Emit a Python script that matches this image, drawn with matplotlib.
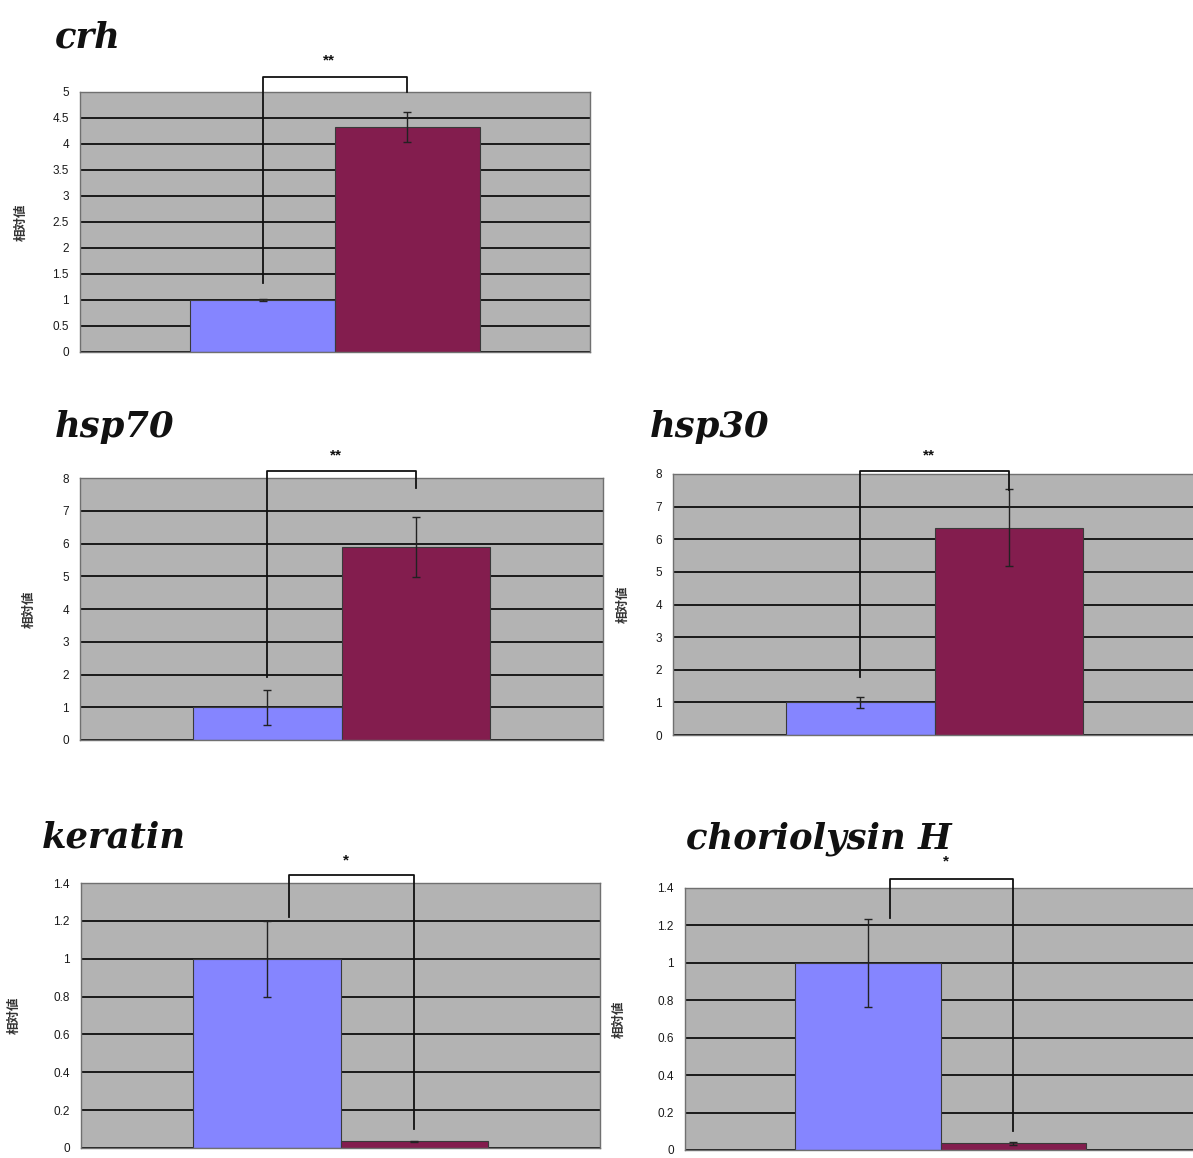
import numpy as np
import matplotlib.pyplot as plt

plt.rcParams['font.family'] = ['Liberation Sans', 'DejaVu Sans']

W, H = 1193, 1158

genes = ["crh", "hsp70", "hsp30", "keratin", "choriolysin H"]
control = [1.0, 1.0, 1.0, 1.0, 1.0]
control_err = [0.02, 0.53, 0.18, 0.2, 0.235]
treated = [4.33, 5.9, 6.35, 0.035, 0.035]
treated_err = [0.29, 0.92, 1.18, 0.004, 0.006]
y_max = [5, 8, 8, 1.4, 1.4]
y_step = [0.5, 1, 1, 0.2, 0.2]
tick_labels = [
    ["0", "0.5", "1", "1.5", "2", "2.5", "3", "3.5", "4", "4.5", "5"],
    ["0", "1", "2", "3", "4", "5", "6", "7", "8"],
    ["0", "1", "2", "3", "4", "5", "6", "7", "8"],
    ["0", "0.2", "0.4", "0.6", "0.8", "1", "1.2", "1.4"],
    ["0", "0.2", "0.4", "0.6", "0.8", "1", "1.2", "1.4"],
]
# significance bracket: left leg x, left leg bottom, top, right leg bottom
bracket_x0 = [0, 0, 0, 0.15, 0.155]
bracket_y0 = [1.33, 1.93, 1.78, 1.22, 1.24]
bracket_top = [5.29, 8.2, 8.1, 1.44, 1.45]
bracket_y1 = [5.0, 7.7, 7.5, 0.1, 0.1]
stars = ["**", "**", "**", "*", "*"]
star_y = [5.6, 8.68, 8.58, 1.52, 1.54]

# panel boxes in pixels: left, right, top, bottom
boxes = [(80, 590, 92, 352), (80, 603, 478, 740), (673, 1196, 474, 735),
         (81, 600, 883, 1148), (685, 1196, 888, 1150)]
titles_xy = [(55, 48), (55, 437), (650, 437), (42, 847), (686, 848)]
ylabel_x = [28, 36, 630, 21, 626]

blue = "#8585ff"
wine = "#831d4e"

fig = plt.figure(figsize=(W / 100, H / 100), dpi=100)

for i in range(len(genes)):
    l, r, t, b = boxes[i]
    ax = fig.add_axes([l / W, 1 - b / H, (r - l) / W, (b - t) / H])
    ax.set_facecolor("#b3b3b3")
    ax.set_axisbelow(True)

    ax.bar([0, 1], [control[i], treated[i]], width=1.0, color=[blue, wine],
           edgecolor="#3a3a3a", linewidth=0.8, zorder=2)
    ax.errorbar([0, 1], [control[i], treated[i]],
                yerr=[control_err[i], treated_err[i]], fmt="none",
                ecolor="#222222", elinewidth=1.0, capsize=3, capthick=1.0, zorder=3)

    ax.set_xlim(-1.26, 2.26)
    ax.set_ylim(0, y_max[i])
    ticks = np.arange(0, y_max[i] + y_step[i] / 2, y_step[i])
    ax.set_yticks(ticks)
    ax.set_yticklabels(tick_labels[i], fontsize=8.5, color="#1a1a1a")
    ax.set_xticks([])
    ax.tick_params(axis="y", length=0, pad=8)
    ax.yaxis.grid(True, color="#1a1a1a", linewidth=1.4)
    for s in ax.spines.values():
        s.set_color("#707070")
        s.set_linewidth(1.0)

    ax.set_ylabel("相対値", family=["Noto Sans CJK JP", "DejaVu Sans"], fontsize=9,
                  fontweight="bold", color="#333333")
    ax.yaxis.set_label_coords((ylabel_x[i] - l) / (r - l), 0.5)

    ax.plot([bracket_x0[i], bracket_x0[i], 1, 1],
            [bracket_y0[i], bracket_top[i], bracket_top[i], bracket_y1[i]],
            color="#111111", linewidth=1.3, clip_on=False, zorder=4)
    ax.text((bracket_x0[i] + 1) / 2 - 0.04, star_y[i], stars[i], ha="center", va="center",
            fontsize=11, fontweight="bold", color="#111111", clip_on=False)

    tx, ty = titles_xy[i]
    fig.text(tx / W, 1 - ty / H, genes[i], family="DejaVu Serif", style="italic",
             fontweight="bold", fontsize=25.5, color="#111111", ha="left", va="baseline")

fig.savefig("out.png", dpi=100)
